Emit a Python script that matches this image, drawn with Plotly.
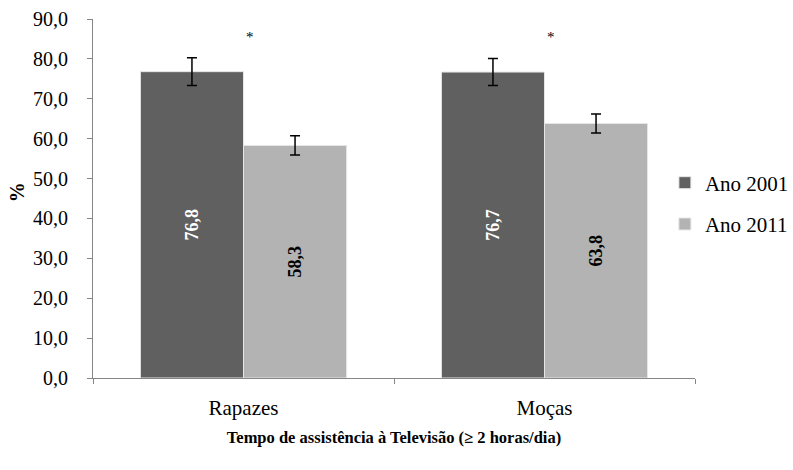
import plotly.graph_objects as go

categories = ["Rapazes", "Moças"]
series_names = ["Ano 2001", "Ano 2011"]
values_2001 = [76.8, 76.7]
values_2011 = [58.3, 63.8]
err_2001 = [3.5, 3.4]
err_2011 = [2.4, 2.4]
labels_2001 = ["76,8", "76,7"]
labels_2011 = ["58,3", "63,8"]
y_ticks = [0, 10, 20, 30, 40, 50, 60, 70, 80, 90]
y_tick_text = ["0,0", "10,0", "20,0", "30,0", "40,0", "50,0", "60,0", "70,0", "80,0", "90,0"]

FONT = "Liberation Serif, Times New Roman, DejaVu Serif, serif"
PAD = '<span style="color:white">,0</span>'

fig = go.Figure()
fig.add_trace(go.Bar(
    x=categories, y=values_2001, name=series_names[0], legendgroup="a",
    marker=dict(color="#606060", line=dict(color="#e6e6e6", width=1)),
    text=["<b>%s</b>" % t for t in labels_2001], textposition="inside", textangle=-90,
    insidetextanchor="middle", constraintext="none",
    textfont=dict(family=FONT, size=18, color="white"),
    error_y=dict(type="data", array=err_2001, color="black", thickness=1.5, width=5),
))
fig.add_trace(go.Bar(
    x=categories, y=values_2011, name=series_names[1], legendgroup="b",
    marker=dict(color="#b3b3b3", line=dict(color="#e6e6e6", width=1)),
    text=["<b>%s</b>" % t for t in labels_2011], textposition="inside", textangle=-90,
    insidetextanchor="middle", constraintext="none",
    textfont=dict(family=FONT, size=18, color="black"),
    error_y=dict(type="data", array=err_2011, color="black", thickness=1.5, width=5),
))

annotations = []
for i, c in enumerate(categories):
    annotations.append(dict(x=c, y=85.5, xref="x", yref="y", text="*", showarrow=False, xshift=6,
                            font=dict(family=FONT, size=15, color="black")))
annotations.append(dict(x=-0.126, y=0.518, xref="paper", yref="paper", text="<b>%</b>",
                        xanchor="center", yanchor="middle",
                        textangle=-90, showarrow=False, font=dict(family=FONT, size=20)))

fig.update_layout(
    width=793, height=470,
    margin=dict(l=93, r=98, t=19, b=92, autoexpand=False),
    paper_bgcolor="white", plot_bgcolor="white",
    barmode="group", bargap=0.315, bargroupgap=0.0,
    font=dict(family=FONT, size=21, color="black"),
    annotations=annotations,
    legend=dict(x=0.95, xanchor="left", y=0.486, yanchor="middle", tracegroupgap=11,
                font=dict(family=FONT, size=21), itemwidth=30, bgcolor="rgba(0,0,0,0)"),
    showlegend=True,
)
fig.update_xaxes(
    showline=True, linecolor="#868686", linewidth=1, automargin=False,
    ticks="outside", tickson="boundaries", ticklen=5, tickcolor="#868686",
    tickfont=dict(family=FONT, size=21), ticklabelstandoff=11,
    title=dict(text="<b>Tempo de assistência à Televisão (≥ 2 horas/dia)</b>",
               font=dict(family=FONT, size=16.5), standoff=12),
    showgrid=False,
)
fig.update_yaxes(
    range=[0, 90], tickvals=y_ticks, ticktext=[t + PAD for t in y_tick_text], automargin=False,
    showline=True, linecolor="#868686", linewidth=1,
    ticks="outside", ticklen=5, tickcolor="#868686",
    tickfont=dict(family=FONT, size=20),
    showgrid=False, zeroline=False,
)

fig.write_html("out.html", config={"displayModeBar": False},
               post_script="document.body.style.margin='0px';")
